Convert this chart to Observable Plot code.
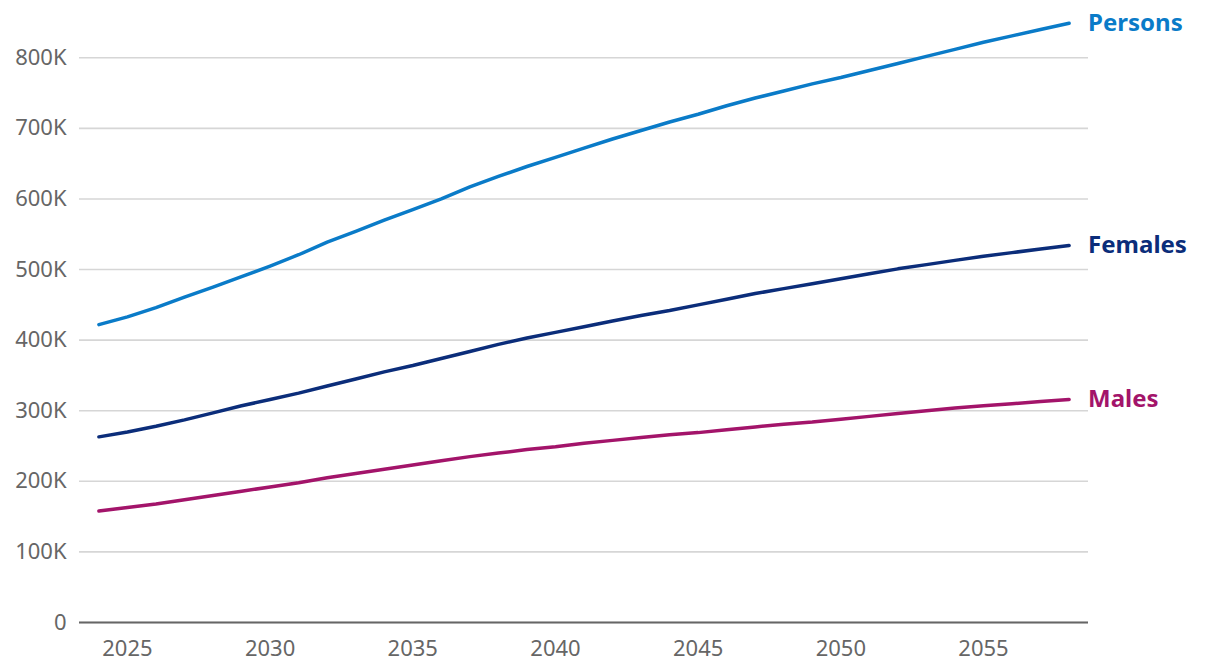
<!DOCTYPE html>
<html><head><meta charset="utf-8">
<script src="https://cdn.jsdelivr.net/npm/d3@7"></script>
<script src="https://cdn.jsdelivr.net/npm/@observablehq/plot@0.6"></script>
<style>body{margin:0;background:#fff;} #chart svg{display:block;}</style>
</head><body><div id="chart"></div>
<script>
const years = [2024,2025,2026,2027,2028,2029,2030,2031,2032,2033,2034,2035,2036,2037,2038,2039,2040,2041,2042,2043,2044,2045,2046,2047,2048,2049,2050,2051,2052,2053,2054,2055,2056,2057,2058];
const persons = [422,433,446,461,475,490,505,521,539,554,570,585,600,617,632,646,659,672,685,697,709,720,732,743,753,763,772,782,792,802,812,822,831,840,849];
const females = [263,270,278,287,297,307,316,325,335,345,355,364,374,384,394,403,411,419,427,435,442,450,458,466,473,480,487,494,501,507,513,519,524,529,534];
const males = [158,163,168,174,180,186,192,198,205,211,217,223,229,235,240,245,249,254,258,262,266,269,273,277,281,284,288,292,296,300,304,307,310,313,316];
const seriesNames = ["Persons","Females","Males"];
const seriesColors = ["#0a7bc8","#0b2d7a","#a3146a"];
const yTicks = [0,100000,200000,300000,400000,500000,600000,700000,800000];
const xTicks = [2025,2030,2035,2040,2045,2050,2055];

const seriesValues = [persons, females, males];
const data = [];
seriesNames.forEach((s, i) => years.forEach((y, j) => data.push({series: s, year: y, value: seriesValues[i][j] * 1000})));
const lastPoints = seriesNames.map((s, i) => ({series: s, year: years[years.length-1], value: seriesValues[i][years.length-1] * 1000}));

const fmtY = d => d === 0 ? "0" : (d / 1000) + "K";

const chart = Plot.plot({
  width: 1220, height: 668,
  marginLeft: 79, marginRight: 132, marginTop: 22, marginBottom: 46,
  style: {fontFamily: "'Noto Sans', sans-serif", fontSize: "22px", color: "#666", background: "#fff"},
  x: {domain: [2023.32, 2058.68], label: null},
  y: {domain: [0, 850000], label: null},
  color: {domain: seriesNames, range: seriesColors},
  marks: [
    Plot.gridY(yTicks, {stroke: "#d6d6d6", strokeOpacity: 1, strokeWidth: 1.6}),
    Plot.axisY({ticks: yTicks, tickSize: 0, tickPadding: 13, tickFormat: fmtY, fill: "#666", fontSize: 22, label: null}),
    Plot.axisX({ticks: xTicks, tickSize: 0, tickPadding: 18, tickFormat: d => String(d), fill: "#666", fontSize: 22, label: null}),
    Plot.ruleY([0], {stroke: "#666", strokeWidth: 2}),
    Plot.line(data, {x: "year", y: "value", z: "series", stroke: "series", strokeWidth: 3.5, strokeLinecap: "round", strokeLinejoin: "round"}),
    Plot.text(lastPoints, {x: "year", y: "value", text: "series", fill: "series", dx: 19, textAnchor: "start", fontWeight: "bold", fontSize: 24})
  ]
});
document.getElementById("chart").appendChild(chart);
</script>
</body></html>
